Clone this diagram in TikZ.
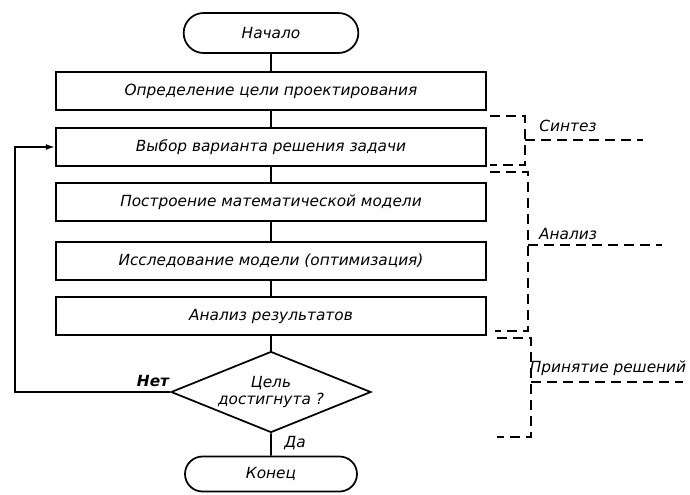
\documentclass[tikz,border=0pt]{standalone}
\usepackage{fontspec}
\setmainfont{DejaVu Sans}
\usetikzlibrary{shapes.geometric,shapes.misc,arrows.meta}
\begin{document}
\begin{tikzpicture}[x=0.75pt,y=-0.75pt,
  every node/.style={font=\fontsize{11.5}{13}\selectfont\itshape},
  proc/.style={draw, line width=1.3pt, minimum width=322.5pt, minimum height=28.5pt, inner sep=0pt},
  term/.style={draw, line width=1.3pt, rounded rectangle, minimum width=131pt, minimum height=30pt, inner sep=0pt},
  dec/.style={draw, line width=1.3pt, diamond, shape aspect=2.47, minimum width=150pt, minimum height=60.75pt, inner sep=0pt, align=center},
  link/.style={line width=1.3pt},
  brk/.style={line width=1.3pt, dash pattern=on 7.5pt off 4.5pt},
  lbl/.style={inner sep=0pt}]
\useasboundingbox (0,0) rectangle (690,494);
% main flow
\node[term] (start) at (271,33) {Начало};
\node[proc] (b1) at (271,91) {Определение цели проектирования};
\node[proc] (b2) at (271,147) {Выбор варианта решения задачи};
\node[proc] (b3) at (271,202) {Построение математической модели};
\node[proc] (b4) at (271,261) {Исследование модели (оптимизация)};
\node[proc] (b5) at (271,316) {Анализ результатов};
\node[dec] (d) at (271,392) {Цель\\достигнута ?};
\node[term, minimum width=129pt, minimum height=26.25pt] (end) at (271,474) {Конец};
\draw[link] (start) -- (b1);
\draw[link] (b1) -- (b2);
\draw[link] (b2) -- (b3);
\draw[link] (b3) -- (b4);
\draw[link] (b4) -- (b5);
\draw[link] (b5) -- (d);
\draw[link] (d) -- (end);
% loop back
\coordinate (lb) at (15,392);
\coordinate (lt) at (15,147);
\draw[link,-{Latex[length=7pt,width=4.5pt]}] (d.west) -- (lb) -- (lt) -- (b2.west);
\node[lbl, font=\fontsize{11.5}{13}\selectfont\itshape\bfseries] (no) at (153,381) {Нет};
\node[lbl] (yes) at (295,443) {Да};
% Synthesis bracket
\coordinate (s1) at (490,116); \coordinate (s2) at (525,116);
\coordinate (s3) at (525,165); \coordinate (s4) at (490,165);
\draw[brk] (s1) -- (s2) -- (s3) -- (s4);
\coordinate (st) at (525,140); \coordinate (se) at (643,140);
\draw[brk] (st) -- (se);
\node[lbl] (syn) at (568,126) {Синтез};
% Analysis bracket
\coordinate (a1) at (490,172); \coordinate (a2) at (528,172);
\coordinate (a3) at (528,331); \coordinate (a4) at (495,331);
\draw[brk] (a1) -- (a2) -- (a3) -- (a4);
\coordinate (at) at (528,245); \coordinate (ae) at (662,245);
\draw[brk] (at) -- (ae);
\node[lbl] (ana) at (568,234) {Анализ};
% Decision bracket
\coordinate (p1) at (497,338); \coordinate (p2) at (531,338);
\coordinate (p3) at (531,437); \coordinate (p4) at (497,437);
\draw[brk] (p1) -- (p2) -- (p3) -- (p4);
\coordinate (pt) at (531,382); \coordinate (pe) at (683,382);
\draw[brk] (pt) -- (pe);
\node[lbl] (dec) at (608,368) {Принятие решений};
\end{tikzpicture}
\end{document}
